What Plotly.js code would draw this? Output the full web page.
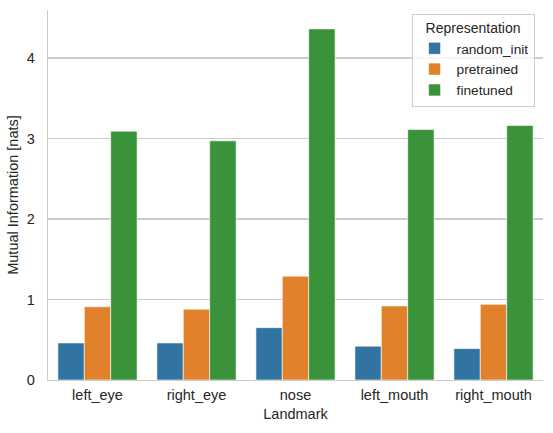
<!DOCTYPE html>
<html>
<head>
<meta charset="utf-8">
<script src="https://cdn.plot.ly/plotly-3.0.1.min.js"></script>
<style>html,body{margin:0;padding:0;background:#fff;}#chart{width:553px;height:433px;}</style>
</head>
<body>
<div id="chart"></div>
<script>
const landmarks = ["left_eye", "right_eye", "nose", "left_mouth", "right_mouth"];
const seriesNames = ["random_init", "pretrained", "finetuned"];
const randomInit = [0.46, 0.46, 0.65, 0.42, 0.39];
const pretrained = [0.91, 0.88, 1.29, 0.92, 0.94];
const finetuned = [3.09, 2.97, 4.36, 3.11, 3.16];
const colors = ["#3274a1", "#e1812c", "#3a923a"];
const yTicks = [0, 1, 2, 3, 4];

const values = [randomInit, pretrained, finetuned];
const traces = seriesNames.map((name, i) => ({
  type: "bar",
  name: name,
  x: landmarks,
  y: values[i],
  marker: {color: colors[i], line: {color: "rgba(255,255,255,0.6)", width: 1}},
  hoverinfo: "x+y+name"
}));

const font = "Liberation Sans, Arial, sans-serif";
const fs = 14.5;
const layout = {
  width: 553, height: 433,
  margin: {l: 47.5, r: 9.5, t: 10, b: 53},
  paper_bgcolor: "#fff", plot_bgcolor: "#fff",
  font: {family: font, size: fs, color: "#262626"},
  barmode: "group", bargap: 0.2, bargroupgap: 0,
  xaxis: {
    title: {text: "Landmark", font: {size: fs, color: "#262626"}, standoff: 7},
    showgrid: false, showline: true, linecolor: "#cccccc", linewidth: 1.2,
    ticks: "", tickfont: {size: fs}, zeroline: false, ticklabelstandoff: 1
  },
  yaxis: {
    title: {text: "Mutual Information [nats]", font: {size: fs, color: "#262626"}, standoff: 4},
    range: [0, 4.595], tickvals: yTicks, ticktext: yTicks.map(String),
    showgrid: true, gridcolor: "#cccccc", gridwidth: 1.2,
    showline: true, linecolor: "#cccccc", linewidth: 1.2,
    ticks: "", ticklen: 0, zeroline: false, tickfont: {size: fs}, ticklabelstandoff: 9
  },
  legend: {
    title: {text: "Representation", side: "top center", font: {size: 14}},
    x: 0.983, xanchor: "right", y: 0.99, yanchor: "top",
    bgcolor: "rgba(255,255,255,0.8)", bordercolor: "#cccccc", borderwidth: 1,
    font: {size: 13.7}, tracegroupgap: 0, itemwidth: 34
  },
  showlegend: true
};
Plotly.newPlot("chart", traces, layout, {displayModeBar: false, staticPlot: true});
</script>
</body>
</html>
